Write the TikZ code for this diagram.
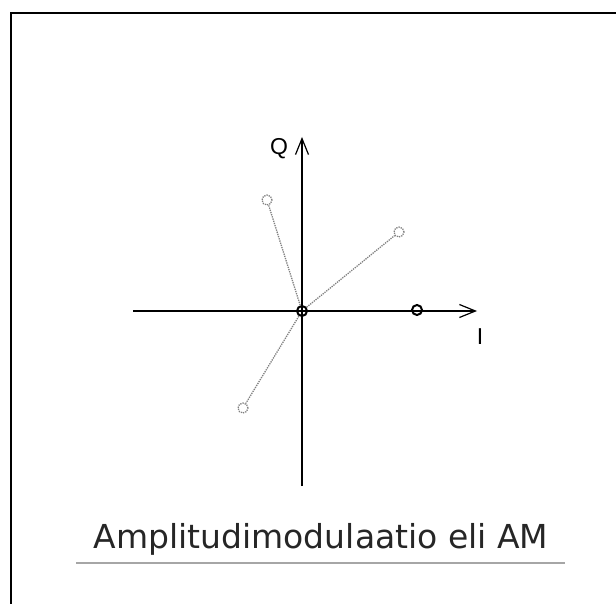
\documentclass[tikz,border=0pt]{standalone}
\usepackage{fontspec}
\setmainfont{Liberation Sans}
\newfontfamily\titlefont{DejaVu Sans}
\usetikzlibrary{arrows.meta,positioning}

\begin{document}
\begin{tikzpicture}[
    x=1pt, y=-1pt,
    axis/.style={line width=1.6pt, -{Straight Barb[length=16pt,width=13pt,line width=1.2pt]}},
    carrier/.style={circle, draw, line width=2pt, inner sep=0pt, minimum size=10pt},
    sidept/.style={circle, draw=gray, densely dotted, line width=1.3pt, inner sep=0pt, minimum size=10pt},
    sideline/.style={gray, densely dotted, line width=1.3pt},
    lbl/.style={font=\fontsize{23}{27}\selectfont, anchor=base}
]
\useasboundingbox (0,0) rectangle (616,604);
% frame (only top and left inside the picture)
\draw[line width=2.8pt] (11,604) -- (11,13) -- (616,13);

% axes
\coordinate (o) at (302,311);
\coordinate (ileft) at (133,311);
\coordinate (iright) at (477,311);
\coordinate (qdown) at (302,486);
\coordinate (qup) at (302,137);
\draw[axis] (ileft) -- (iright);
\draw[axis] (qdown) -- (qup);
\node[lbl] (qlbl) at (279,155) {Q};
\node[lbl] (ilbl) at (480,344) {I};

% points
\node[carrier] (c0) at (o) {};
\node[carrier] (c1) at (417,310) {};
\node[sidept] (s1) at (267,200) {};
\node[sidept] (s2) at (399,232) {};
\node[sidept] (s3) at (243,408) {};
\draw[sideline] (c0) -- (s1);
\draw[sideline] (c0) -- (s2);
\draw[sideline] (c0) -- (s3);

% title
\node[font=\titlefont\fontsize{33}{40}\selectfont, text=black!85, anchor=base] (title) at (321,548) {Amplitudimodulaatio eli AM};
\draw[gray!70, line width=1.2pt] (76,563) -- (565,563);
\end{tikzpicture}
\end{document}
